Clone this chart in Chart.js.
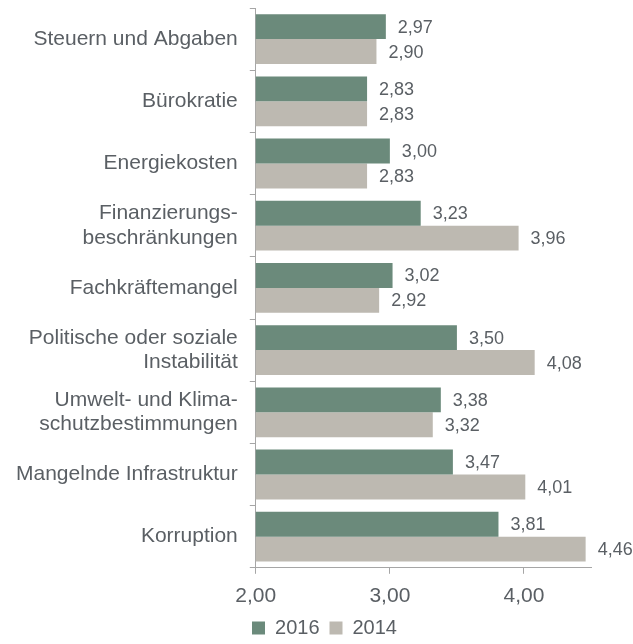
<!DOCTYPE html>
<html>
<head>
<meta charset="utf-8">
<script src="https://cdn.jsdelivr.net/npm/chart.js@4/dist/chart.umd.min.js"></script>
<style>
  html, body { margin: 0; padding: 0; background: #fff; }
  #wrap { width: 633px; height: 644px; }
</style>
</head>
<body>
<div id="wrap"><canvas id="chart"></canvas></div>
<script>
// Chart data
const categories = [
    'Steuern und Abgaben',
    'Bürokratie',
    'Energiekosten',
    ['Finanzierungs-', 'beschränkungen'],
    'Fachkräftemangel',
    ['Politische oder soziale', 'Instabilität'],
    ['Umwelt- und Klima-', 'schutzbestimmungen'],
    'Mangelnde Infrastruktur',
    'Korruption'
];
const values2016 = [2.97, 2.83, 3.00, 3.23, 3.02, 3.50, 3.38, 3.47, 3.81];
const values2014 = [2.90, 2.83, 2.83, 3.96, 2.92, 4.08, 3.32, 4.01, 4.46];
const xTicks = [2, 3, 4];

const textColor = '#5a5f64';
const axisColor = '#a6a6a6';

const fmt = v => v.toFixed(2).replace('.', ',');

// draws value labels at the bar ends
const valueLabels = {
    id: 'valueLabels',
    afterDatasetsDraw(chart) {
        const ctx = chart.ctx;
        ctx.save();
        ctx.font = '18px "Liberation Sans", Arial, sans-serif';
        ctx.fillStyle = textColor;
        ctx.textAlign = 'left';
        ctx.textBaseline = 'middle';
        chart.data.datasets.forEach((ds, i) => {
            chart.getDatasetMeta(i).data.forEach((bar, j) => {
                ctx.fillText(fmt(ds.data[j]), bar.x + 12, bar.y + 1);
            });
        });
        ctx.restore();
    }
};

// nudge the legend to the right, like in the original
const legendShift = {
    id: 'legendShift',
    afterLayout(chart) {
        chart.legend.left += 27;
        chart.legend.right += 27;
    }
};

Chart.defaults.font.family = '"Liberation Sans", Arial, sans-serif';
Chart.defaults.color = textColor;

const ctx = document.getElementById('chart').getContext('2d');
new Chart(ctx, {
    type: 'bar',
    data: {
        labels: categories,
        datasets: [{
            label: '2016',
            data: values2016,
            backgroundColor: '#6b8a7b',
            categoryPercentage: 0.8,
            barPercentage: 1.0
        }, {
            label: '2014',
            data: values2014,
            backgroundColor: '#bdb9b1',
            categoryPercentage: 0.8,
            barPercentage: 1.0
        }]
    },
    options: {
        indexAxis: 'y',
        responsive: true,
        maintainAspectRatio: false,
        animation: false,
        layout: {
            padding: { top: 8, right: 42, left: 4, bottom: -4 }
        },
        plugins: {
            legend: {
                position: 'bottom',
                labels: {
                    boxWidth: 13,
                    boxHeight: 13,
                    padding: 10,
                    font: { size: 20 },
                    color: textColor
                }
            },
            tooltip: { enabled: false }
        },
        scales: {
            x: {
                min: 2,
                max: 4.5,
                afterBuildTicks: axis => {
                    axis.ticks = xTicks.map(v => ({ value: v }));
                },
                afterFit: scale => {
                    scale.height -= 11;
                },
                ticks: {
                    callback: v => fmt(v),
                    font: { size: 21 },
                    color: textColor,
                    padding: 10
                },
                grid: {
                    drawOnChartArea: false,
                    drawTicks: true,
                    tickLength: 6,
                    color: axisColor
                },
                border: { color: axisColor, width: 1 }
            },
            y: {
                afterFit: scale => {
                    scale.paddingTop = 0;
                    scale.paddingBottom = 0;
                },
                ticks: {
                    font: { size: 21, lineHeight: 1.15 },
                    color: textColor,
                    padding: 12
                },
                grid: {
                    offset: true,
                    drawOnChartArea: false,
                    drawTicks: true,
                    tickLength: 6,
                    color: axisColor
                },
                border: { color: axisColor, width: 1 }
            }
        }
    },
    plugins: [valueLabels, legendShift]
});
</script>
</body>
</html>
